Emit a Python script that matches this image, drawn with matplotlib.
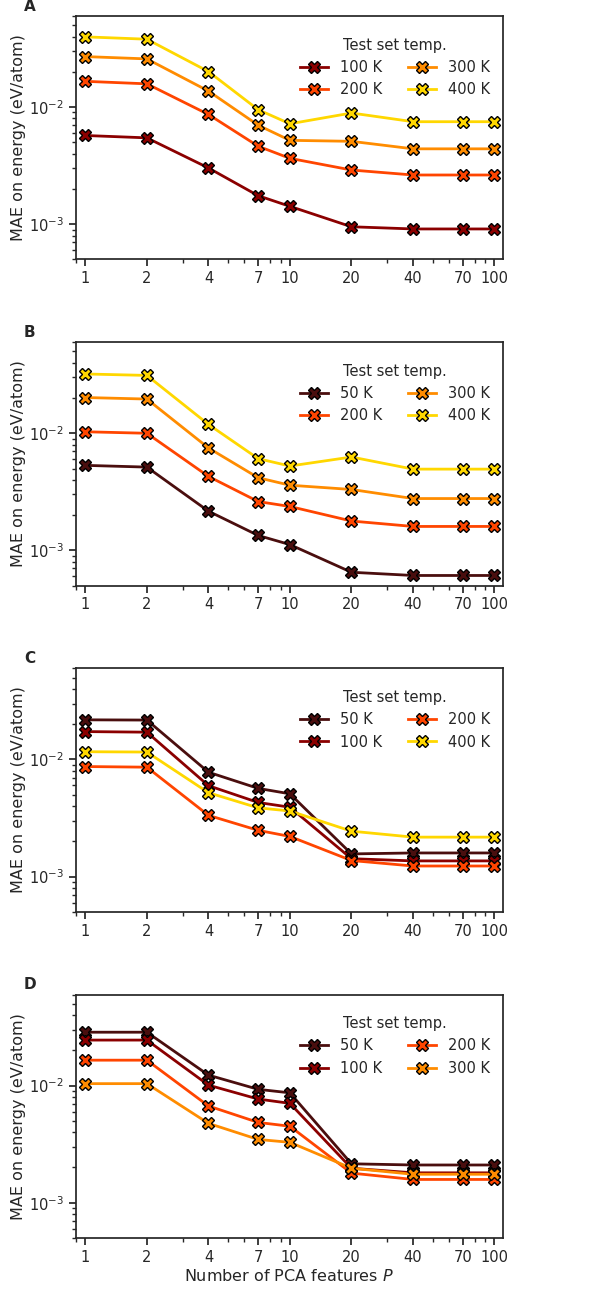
import numpy as np
import matplotlib
matplotlib.use('Agg')
import matplotlib.pyplot as plt
from matplotlib.ticker import FixedLocator, LogLocator, NullFormatter, ScalarFormatter

# Number of PCA features
n_feat = [1, 2, 4, 7, 10, 20, 40, 70, 100]

# Panel A
a_temps = ['100 K', '200 K', '300 K', '400 K']
a_100 = [0.00572, 0.00546, 0.00302, 0.00175, 0.00142, 0.00095, 0.00091, 0.00091, 0.00091]
a_200 = [0.0166, 0.0158, 0.00865, 0.00463, 0.00365, 0.0029, 0.00263, 0.00263, 0.00263]
a_300 = [0.0270, 0.0258, 0.0137, 0.0070, 0.0052, 0.0051, 0.0044, 0.0044, 0.0044]
a_400 = [0.0398, 0.0380, 0.0201, 0.0095, 0.0072, 0.0089, 0.0075, 0.0075, 0.0075]

# Panel B
b_temps = ['50 K', '200 K', '300 K', '400 K']
b_50 = [0.00532, 0.00514, 0.00216, 0.00134, 0.00112, 0.00065, 0.00061, 0.00061, 0.00061]
b_200 = [0.0103, 0.0100, 0.00428, 0.00261, 0.00237, 0.00178, 0.0016, 0.0016, 0.0016]
b_300 = [0.0202, 0.0196, 0.00749, 0.00417, 0.0036, 0.00331, 0.00277, 0.00277, 0.00277]
b_400 = [0.0321, 0.0312, 0.0119, 0.00607, 0.00525, 0.00627, 0.00494, 0.00494, 0.00494]

# Panel C
c_temps = ['50 K', '100 K', '200 K', '400 K']
c_50 = [0.0218, 0.0217, 0.00778, 0.00566, 0.00509, 0.00156, 0.00159, 0.00159, 0.00159]
c_100 = [0.0173, 0.0171, 0.00597, 0.00429, 0.00391, 0.00142, 0.00136, 0.00136, 0.00136]
c_200 = [0.0087, 0.00859, 0.00333, 0.00248, 0.0022, 0.00137, 0.00123, 0.00123, 0.00123]
c_400 = [0.01164, 0.01157, 0.0052, 0.00386, 0.00363, 0.00244, 0.00217, 0.00217, 0.00217]

# Panel D
d_temps = ['50 K', '100 K', '200 K', '300 K']
d_50 = [0.0286, 0.0286, 0.0123, 0.0093, 0.00868, 0.00215, 0.0021, 0.0021, 0.0021]
d_100 = [0.0245, 0.0245, 0.0101, 0.00768, 0.00706, 0.00197, 0.0018, 0.0018, 0.0018]
d_200 = [0.0165, 0.0165, 0.0067, 0.00485, 0.0045, 0.00179, 0.00158, 0.00158, 0.00158]
d_300 = [0.0104, 0.0104, 0.00476, 0.00347, 0.00328, 0.00197, 0.00175, 0.00175, 0.00175]

# colour per temperature
temp_colors = {'50 K': '#4a0e0e', '100 K': '#8b0000', '200 K': '#ff4500',
               '300 K': '#ff8c00', '400 K': '#ffd700'}

panels = [
	('A', a_temps, [a_100, a_200, a_300, a_400]),
	('B', b_temps, [b_50, b_200, b_300, b_400]),
	('C', c_temps, [c_50, c_100, c_200, c_400]),
	('D', d_temps, [d_50, d_100, d_200, d_300]),
]

plt.rcParams['font.family'] = 'DejaVu Sans'
plt.rcParams['font.size'] = 10
plt.rcParams['text.color'] = '#262626'
plt.rcParams['axes.labelcolor'] = '#262626'
plt.rcParams['axes.edgecolor'] = '#262626'
plt.rcParams['axes.linewidth'] = 1.25
plt.rcParams['xtick.color'] = '#262626'
plt.rcParams['ytick.color'] = '#262626'
plt.rcParams['xtick.labelsize'] = 10.5
plt.rcParams['ytick.labelsize'] = 10.5
plt.rcParams['xtick.major.size'] = 5
plt.rcParams['ytick.major.size'] = 5
plt.rcParams['xtick.minor.size'] = 3
plt.rcParams['ytick.minor.size'] = 3
plt.rcParams['xtick.major.width'] = 1.25
plt.rcParams['ytick.major.width'] = 1.25
plt.rcParams['xtick.minor.width'] = 1.0
plt.rcParams['ytick.minor.width'] = 1.0

fig, axes = plt.subplots(4, 1, figsize=(5.98, 12.89), dpi=100)
fig.subplots_adjust(left=0.127, right=0.841, top=0.9876, bottom=0.0396, hspace=0.34)

for ax, (letter, temps, series) in zip(axes, panels):
	for temp, vals in zip(temps, series):
		ax.plot(n_feat, vals, color=temp_colors[temp], lw=2, marker='X', markersize=8,
				markeredgecolor='black', markeredgewidth=1, label=temp)
	ax.set_xscale('log')
	ax.set_yscale('log')
	ax.set_xlim(0.9, 110)
	ax.set_ylim(5e-4, 6e-2)
	ax.xaxis.set_major_locator(FixedLocator(n_feat))
	ax.xaxis.set_major_formatter(ScalarFormatter())
	ax.xaxis.set_minor_locator(LogLocator(base=10, subs=np.arange(1, 10)))
	ax.xaxis.set_minor_formatter(NullFormatter())
	ax.set_ylabel('MAE on energy (eV/atom)', fontsize=11.5, labelpad=2)
	ax.legend(title='Test set temp.', ncol=2, frameon=False, loc='upper right',
			  bbox_to_anchor=(1, 0.965), title_fontsize=10.5, fontsize=10.5,
			  handlelength=1.9, columnspacing=1.8)
	ax.text(-0.122, 1.04, letter, transform=ax.transAxes, fontsize=11,
			fontweight='bold', va='center', ha='left')

axes[-1].set_xlabel('Number of PCA features $P$', fontsize=11.5, labelpad=2)

plt.savefig('out.png', dpi=100)
